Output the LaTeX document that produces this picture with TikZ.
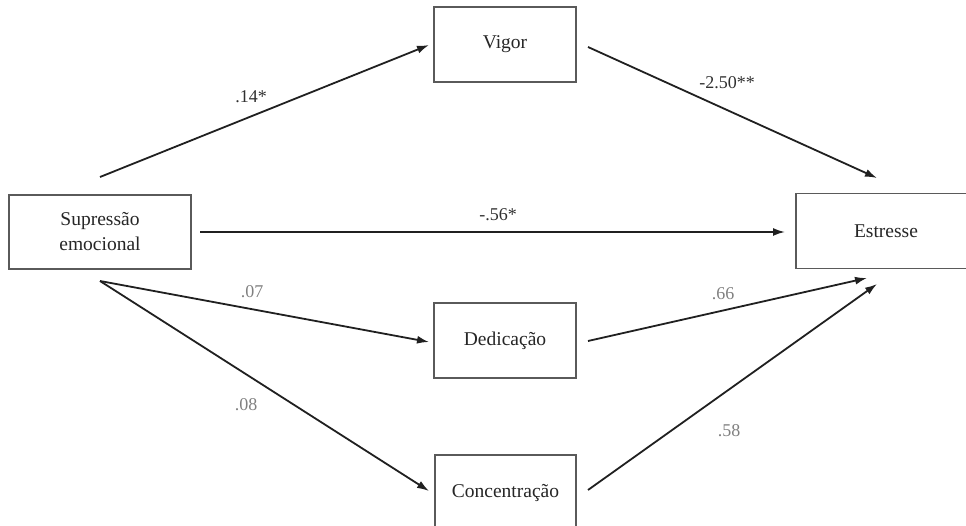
\documentclass[tikz,border=0pt]{standalone}
\usepackage{fontspec}
\setmainfont{Liberation Serif}
\usetikzlibrary{arrows.meta}
\definecolor{boxline}{HTML}{5A5A5A}
\definecolor{pathline}{HTML}{202020}
\definecolor{darklbl}{HTML}{303030}
\definecolor{greylbl}{HTML}{808080}
\tikzset{
  box/.style={draw=boxline, line width=1.4pt, fill=white, inner sep=0pt,
    align=center, font=\fontsize{19.5}{25}\selectfont, text=black!85},
  path arrow/.style={draw=pathline, line width=1.8pt,
    -{Latex[length=12pt, width=8pt]}},
  coef/.style={font=\fontsize{18}{20}\selectfont, text=darklbl},
  coefgrey/.style={font=\fontsize{18}{20}\selectfont, text=greylbl}
}
\begin{document}
\begin{tikzpicture}[x=1pt, y=-1pt]
  \useasboundingbox (0,0) rectangle (966,526);

  % variables
  \node[box, minimum width=182pt, minimum height=74pt] (sup) at (100,232) {Supressão\\emocional};
  \node[box, minimum width=142pt, minimum height=75pt] (vig) at (505,44.5) {Vigor};
  \node[box, minimum width=180pt, minimum height=75pt] (est) at (886,231) {Estresse};
  \node[box, minimum width=142pt, minimum height=75pt] (ded) at (505,340.5) {Dedicação};
  \node[box, minimum width=141pt, minimum height=76pt] (con) at (505.5,493) {Concentração};

  % path start and end points
  \coordinate (s1) at (100,177);
  \coordinate (e1) at (429,45);
  \coordinate (s2) at (588,47);
  \coordinate (e2) at (877,178);
  \coordinate (s3) at (200,232);
  \coordinate (e3) at (785,232);
  \coordinate (s4) at (100,281);
  \coordinate (e4) at (429,342);
  \coordinate (e5) at (429,491);
  \coordinate (s6) at (588,341);
  \coordinate (e6) at (867,278);
  \coordinate (s7) at (588,490);
  \coordinate (e7) at (877,284);

  % paths
  \draw[path arrow] (s1) -- (e1);
  \draw[path arrow] (s2) -- (e2);
  \draw[path arrow] (s3) -- (e3);
  \draw[path arrow] (s4) -- (e4);
  \draw[path arrow] (s4) -- (e5);
  \draw[path arrow] (s6) -- (e6);
  \draw[path arrow] (s7) -- (e7);

  % coefficients
  \node[coef] (c1) at (251,97) {.14*};
  \node[coef] (c2) at (727,83) {-2.50**};
  \node[coef] (c3) at (498,215) {-.56*};
  \node[coefgrey] (c4) at (252,292) {.07};
  \node[coefgrey] (c5) at (246,405) {.08};
  \node[coefgrey] (c6) at (723,294) {.66};
  \node[coefgrey] (c7) at (729,431) {.58};
\end{tikzpicture}
\end{document}
